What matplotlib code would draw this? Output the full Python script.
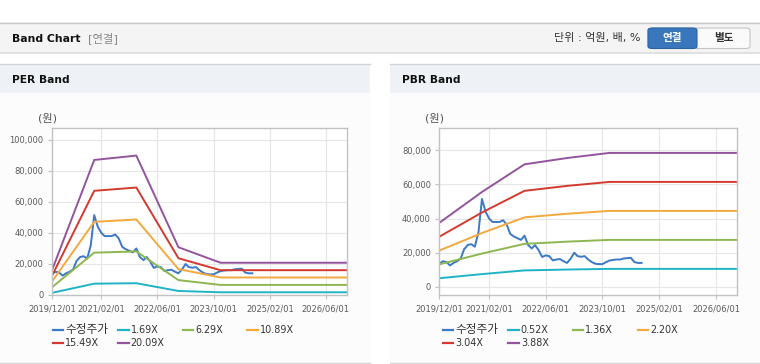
import matplotlib
matplotlib.use('Agg')
import matplotlib.pyplot as plt
import matplotlib.dates as mdates
from matplotlib.patches import Rectangle, FancyBboxPatch
from matplotlib.lines import Line2D
from matplotlib.ticker import FuncFormatter
import pandas as pd

plt.rcParams['font.family'] = ['DejaVu Sans', 'Noto Sans CJK KR']

# ---- 데이터 ----
price_dates = pd.date_range('2019-12-01', '2024-09-01', freq='MS')
price = [13500, 15000, 14500, 12500, 14000, 15000, 16500, 22000, 24500, 25000,
         23500, 32000, 51500, 44000, 40000, 38000, 38000, 38000, 39000, 36500,
         31000, 29500, 28500, 27500, 30000, 24500, 22500, 24500, 21500, 17500,
         18400, 18000, 15500, 16000, 16300, 15000, 14000, 16500, 20000, 18000,
         17600, 18000, 16000, 14500, 13500, 13300, 13300, 14500, 15400, 15800,
         16000, 16000, 16600, 16800, 17000, 14500, 14000, 14000]

band_dates = pd.to_datetime(['2019-12-01', '2020-12-01', '2021-12-01',
                             '2022-12-01', '2023-12-01', '2026-12-01'])

per_labels = ['1.69X', '6.29X', '10.89X', '15.49X', '20.09X']
per_169 = [1400, 7300, 7600, 2600, 1750, 1750]
per_629 = [5000, 27300, 28100, 9600, 6500, 6500]
per_1089 = [8700, 47200, 48700, 16700, 11300, 11300]
per_1549 = [12400, 67200, 69300, 23700, 16000, 16000]
per_2009 = [16000, 87100, 89900, 30800, 20800, 20800]

pbr_labels = ['0.52X', '1.36X', '2.20X', '3.04X', '3.88X']
pbr_052 = [5030, 7450, 9620, 10120, 10520, 10520]
pbr_136 = [13140, 19490, 25170, 26470, 27510, 27510]
pbr_220 = [21260, 31530, 40710, 42810, 44500, 44500]
pbr_304 = [29380, 43560, 56260, 59160, 61500, 61500]
pbr_388 = [37500, 55600, 71800, 75500, 78500, 78500]

tick_dates = pd.to_datetime(['2019-12-01', '2021-02-01', '2022-06-01',
                             '2023-10-01', '2025-02-01', '2026-06-01'])

price_color = '#3b78c6'
band_colors = ['#1fb3c6', '#8db751', '#f3a93e', '#d23a30', '#93549e']

W, H = 760, 364
fig = plt.figure(figsize=(W / 100, H / 100), dpi=100)
fig.patch.set_facecolor('white')


def fx(x):
    return x / W


def fy(y):
    return 1 - y / H


def rect(x0, y0, x1, y1, color, **kw):
    fig.add_artist(Rectangle((fx(x0), fy(y1)), (x1 - x0) / W, (y1 - y0) / H,
                             transform=fig.transFigure, facecolor=color,
                             edgecolor='none', zorder=-10, **kw))


def hline(x0, x1, y, color, lw=1.0):
    fig.add_artist(Line2D([fx(x0), fx(x1)], [fy(y), fy(y)], transform=fig.transFigure,
                          color=color, lw=lw, zorder=-5))


# ---- 상단 바 ----
rect(0, 22, 760, 53, '#f4f4f4')
hline(0, 760, 22.5, '#c8c8c8')
hline(0, 760, 53, '#dcdcdc', lw=1.2)
fig.text(fx(12), fy(38.5), 'Band Chart', fontsize=7.8, fontweight='bold',
         color='#111111', va='center', ha='left')
fig.text(fx(88), fy(38.5), '[연결]', fontsize=8.2, color='#888888', va='center', ha='left')
fig.text(fx(641), fy(38.5), '단위 : 억원, 배, %', fontsize=8.0, color='#333333',
         va='center', ha='right')
fig.add_artist(FancyBboxPatch((fx(648), fy(48.5)), (750 - 648) / W, 20.5 / H,
                              boxstyle='round,pad=0,rounding_size=0.006',
                              transform=fig.transFigure, facecolor='#fafafa',
                              edgecolor='#c4c4c4', lw=0.8))
fig.add_artist(FancyBboxPatch((fx(648), fy(48.5)), (697 - 648) / W, 20.5 / H,
                              boxstyle='round,pad=0,rounding_size=0.006',
                              transform=fig.transFigure, facecolor='#3a76bb',
                              edgecolor='#2f64a3', lw=0.8))
fig.text(fx(672.5), fy(38.5), '연결', fontsize=7.6, fontweight='bold', color='white',
         va='center', ha='center')
fig.text(fx(723.5), fy(38.5), '별도', fontsize=7.6, fontweight='bold', color='#333333',
         va='center', ha='center')

# ---- 패널 배경 ----
for (x0, x1, title, tx) in [(0, 370, 'PER Band', 11.5), (390, 760, 'PBR Band', 401.5)]:
    rect(x0, 64, x1, 363, '#fcfcfc')
    rect(x0, 64, x1, 92.7, '#eef2f7')
    hline(x0, x1, 64.3, '#d4d4d4')
    hline(x0, x1, 362.7, '#d4d4d4')
    fig.text(fx(tx), fy(80), title, fontsize=7.7, fontweight='bold', color='#111111',
             va='center', ha='left')


def setup_axes(ax, ymin, ymax, yticks):
    ax.set_facecolor('white')
    ax.set_xlim(pd.Timestamp('2019-12-01'), pd.Timestamp('2026-12-01'))
    ax.set_ylim(ymin, ymax)
    ax.set_xticks(tick_dates)
    ax.xaxis.set_major_formatter(mdates.DateFormatter('%Y/%m/%d'))
    ax.set_yticks(yticks)
    ax.yaxis.set_major_formatter(FuncFormatter(lambda v, p: f'{int(v):,}'))
    ax.grid(True, color='#e6e6e6', lw=0.8)
    ax.set_axisbelow(True)
    for s in ax.spines.values():
        s.set_color('#c2c2c2')
        s.set_linewidth(1.0)
    ax.tick_params(axis='both', direction='out', length=3, color='#c2c2c2',
                   labelcolor='#5a5a5a', labelsize=6.0)
    ax.tick_params(axis='x', pad=4)
    ax.tick_params(axis='y', pad=3)


def legend(x_cols, y_rows, labels, colors):
    for i, (lab, col) in enumerate(zip(labels, colors)):
        x0 = x_cols[i % 4]
        y = y_rows[i // 4]
        fig.add_artist(Line2D([fx(x0), fx(x0 + 10.6)], [fy(y), fy(y)],
                              transform=fig.transFigure, color=col, lw=1.6))
        size = 8.4 if i == 0 else 6.9
        fig.text(fx(x0 + 12.5), fy(y), lab, fontsize=size, color='#333333',
                 va='center', ha='left')


# ---- PER Band ----
ax1 = fig.add_axes([fx(52), fy(295), 295 / W, 167 / H])
setup_axes(ax1, 0, 107700, [0, 20000, 40000, 60000, 80000, 100000])
ax1.plot(price_dates, price, color=price_color, lw=1.4)
for vals, c in zip([per_169, per_629, per_1089, per_1549, per_2009], band_colors):
    ax1.plot(band_dates, vals, color=c, lw=1.4)
fig.text(fx(47.5), fy(118), '(원)', fontsize=8, color='#555555', va='center', ha='center')
legend([52.7, 118.3, 182.7, 247.3], [330, 343.3], ['수정주가'] + per_labels,
       [price_color] + band_colors)

# ---- PBR Band ----
ax2 = fig.add_axes([fx(439.3), fy(295), 298 / W, 167 / H])
setup_axes(ax2, -4800, 93100, [0, 20000, 40000, 60000, 80000])
ax2.plot(price_dates, price, color=price_color, lw=1.4)
for vals, c in zip([pbr_052, pbr_136, pbr_220, pbr_304, pbr_388], band_colors):
    ax2.plot(band_dates, vals, color=c, lw=1.4)
fig.text(fx(434), fy(118), '(원)', fontsize=8, color='#555555', va='center', ha='center')
legend([442.7, 508.3, 572.7, 637.7], [330, 343.3], ['수정주가'] + pbr_labels,
       [price_color] + band_colors)

fig.savefig('out.png', dpi=100, facecolor='white')
plt.close(fig)
